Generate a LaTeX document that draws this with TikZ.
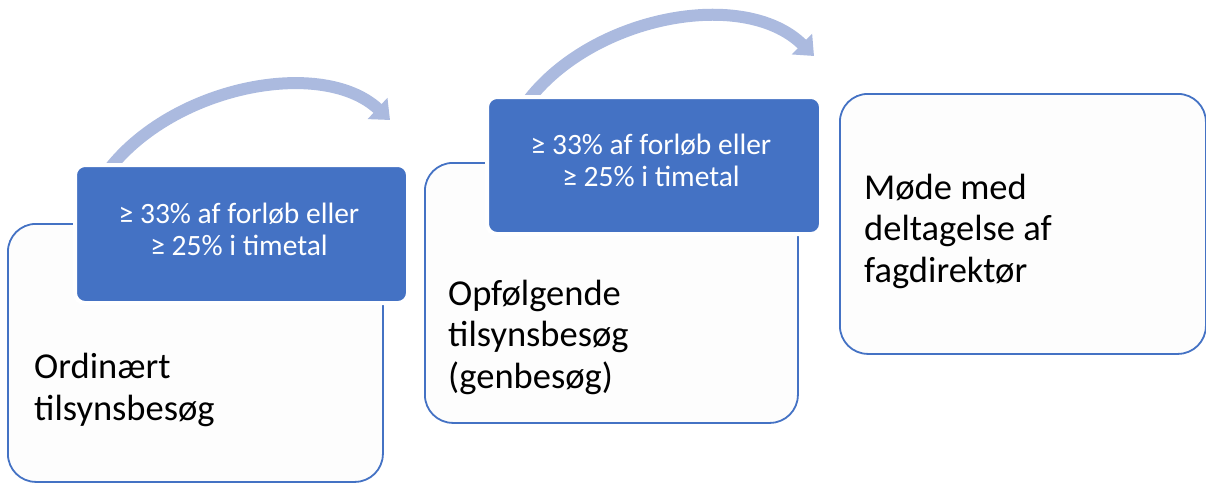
\documentclass[tikz,border=0pt]{standalone}
\usepackage{fontspec}
\setmainfont{Carlito}
\usetikzlibrary{arrows.meta}
\definecolor{accent}{HTML}{4472C4}
\definecolor{arcblue}{HTML}{ABBADF}
\definecolor{boxfill}{HTML}{FDFDFD}
\begin{document}
\begin{tikzpicture}[x=1pt,y=-1pt,
 stage/.style={draw=accent, line width=1.8pt, fill=boxfill, rounded corners=28pt, anchor=north west, inner sep=0pt},
 crit/.style={fill=accent, draw=white, line width=4pt, rounded corners=10pt, anchor=north west, inner sep=0pt},
 arcarrow/.style={draw=arcblue, line width=12pt, -{Triangle[width=28pt,length=17pt]}},
 stagetext/.style={font=\fontsize{36.5}{41.5}\selectfont, align=left, anchor=base west, inner sep=0pt, text=black},
 crittext/.style={font=\fontsize{29.5}{32}\selectfont, align=center, anchor=base, inner sep=0pt, text=white}]
\useasboundingbox (0,0) rectangle (1206,483);
% stage boxes
\node[stage, minimum width=375pt, minimum height=258pt] (s1) at (7,223) {};
\node[stage, minimum width=373pt, minimum height=260pt] (s2) at (424,162) {};
\node[stage, minimum width=366pt, minimum height=260pt] (s3) at (839,93) {};
% arcs
\coordinate (a1s) at (100,182);
\coordinate (a1e) at (390,120);
\coordinate (a2s) at (520,112);
\coordinate (a2e) at (814,56);
\draw[arcarrow] (a1s) .. controls (160,88) and (320,55) .. (a1e);
\draw[arcarrow] (a2s) .. controls (580,18) and (742,-15) .. (a2e);
% criteria boxes
\node[crit, minimum width=333pt, minimum height=138pt] (c1) at (73,163) {};
\node[crit, minimum width=334pt, minimum height=137pt] (c2) at (485,95) {};
% texts
\node[crittext] (ct1) at (239,255) {≥ 33\% af forløb eller\\≥ 25\% i timetal};
\node[crittext] (ct2) at (651,186) {≥ 33\% af forløb eller\\≥ 25\% i timetal};
\node[stagetext] (st1) at (34,420) {Ordinært\\tilsynsbesøg};
\node[stagetext] (st2) at (448,388) {Opfølgende\\tilsynsbesøg\\(genbesøg)};
\node[stagetext] (st3) at (864,282) {Møde med\\deltagelse af\\fagdirektør};
\end{tikzpicture}
\end{document}
